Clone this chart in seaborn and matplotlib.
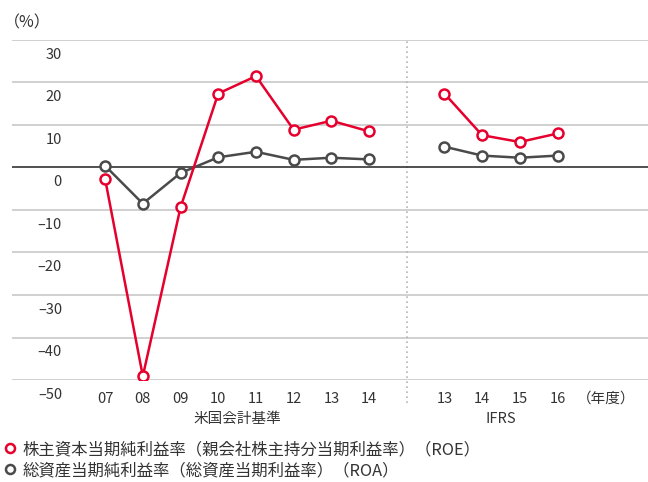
import numpy as np
import pandas as pd
import seaborn as sns
import matplotlib.pyplot as plt
from matplotlib.lines import Line2D
from matplotlib.transforms import ScaledTranslation, blended_transform_factory

# data
us_years = ["07", "08", "09", "10", "11", "12", "13", "14"]
ifrs_years = ["13", "14", "15", "16"]
roe_us = [-2.7, -49.1, -9.4, 17.4, 21.5, 8.9, 11.0, 8.5]
roa_us = [0.4, -8.5, -1.3, 2.4, 3.7, 1.8, 2.3, 1.9]
roe_ifrs = [17.4, 7.6, 6.0, 8.0]
roa_ifrs = [4.9, 2.8, 2.3, 2.8]
yticks = [30, 20, 10, 0, -10, -20, -30, -40, -50]
roe_label = "株主資本当期純利益率（親会社株主持分当期利益率）（ROE）"
roa_label = "総資産当期純利益率（総資産当期利益率）（ROA）"

RED = "#e5002d"
GRAY = "#4a4a4a"
TXT = "#333333"

sns.set_theme(style="white")
plt.rcParams["font.family"] = ["Noto Sans CJK JP", "DejaVu Sans"]

# positions: US GAAP 0..7, divider at 8, IFRS 9..12
us_x = list(range(len(us_years)))
ifrs_x = [9 + i for i in range(len(ifrs_years))]
divider = 8

df = pd.concat([
    pd.DataFrame({"x": us_x, "v": roe_us, "s": "ROE", "seg": "us"}),
    pd.DataFrame({"x": us_x, "v": roa_us, "s": "ROA", "seg": "us"}),
    pd.DataFrame({"x": ifrs_x, "v": roe_ifrs, "s": "ROE", "seg": "ifrs"}),
    pd.DataFrame({"x": ifrs_x, "v": roa_ifrs, "s": "ROA", "seg": "ifrs"}),
])

fig = plt.figure(figsize=(6.48, 4.82), dpi=100)
ax = fig.add_axes([12 / 648, 1 - 380 / 482, 636 / 648, 340 / 482])

for y in yticks:
    if y == 0:
        continue
    ax.axhline(y, color="#c8c8c8", lw=1.2, zorder=1)

# dotted divider between standards
ax.plot([divider, divider], [-55.3, 30], color="#b4b4b4", lw=1.2,
        ls=(0, (1, 2)), clip_on=False, zorder=1)

colors = {"ROE": RED, "ROA": GRAY}
for (s, seg), d in df.groupby(["s", "seg"]):
    sns.lineplot(data=d, x="x", y="v", ax=ax, color=colors[s], lw=1.8,
                 marker="o", markersize=7.2, markerfacecolor="white",
                 markeredgecolor=colors[s], markeredgewidth=1.8,
                 zorder=4 if s == "ROA" else 5)

ax.axhline(0, color="#333333", lw=1.2, zorder=3)

ax.set_xlim(-2.47, 14.4)
ax.set_ylim(-50, 30)
for sp in ax.spines.values():
    sp.set_visible(False)
ax.set_xlabel("")
ax.set_ylabel("")

# y labels sit inside the plot, just under their gridline
ax.set_yticks(yticks)
ax.set_yticklabels([str(t) if t >= 0 else "–" + str(-t) for t in yticks])
ax.tick_params(axis="y", length=0, pad=0, labelsize=10.5, labelcolor=TXT)
off = ScaledTranslation(0.50, -0.135, fig.dpi_scale_trans)
for lab in ax.get_yticklabels():
    lab.set_transform(lab.get_transform() + off)

ax.set_xticks(us_x + ifrs_x + [13.3])
ax.set_xticklabels(us_years + ifrs_years + ["（年度）"])
ax.tick_params(axis="x", length=0, pad=8.5, labelsize=10.5, labelcolor=TXT)

tr = blended_transform_factory(ax.transData, fig.transFigure)
ax.text(np.mean(us_x), 1 - 419 / 482, "米国会計基準", transform=tr,
        ha="center", va="center", fontsize=10.5, color=TXT)
ax.text(np.mean(ifrs_x), 1 - 419 / 482, "IFRS", transform=tr,
        ha="center", va="center", fontsize=10.5, color=TXT)

fig.text(4 / 648, 1 - 23 / 482, "（%）", ha="left", va="center",
         fontsize=11.5, color=TXT)

handles = [
    Line2D([], [], ls="none", marker="o", markersize=6.5, markerfacecolor="white",
           markeredgecolor=RED, markeredgewidth=1.8),
    Line2D([], [], ls="none", marker="o", markersize=6.5, markerfacecolor="white",
           markeredgecolor=GRAY, markeredgewidth=1.8),
]
fig.legend(handles, [roe_label, roa_label], loc="upper left",
           bbox_to_anchor=(4 / 648, 1 - 441 / 482), frameon=False,
           handlelength=0.7, handletextpad=0.45, labelspacing=0.25,
           borderpad=0, borderaxespad=0, fontsize=11.8, labelcolor=TXT)

fig.savefig("out.png", dpi=100)
